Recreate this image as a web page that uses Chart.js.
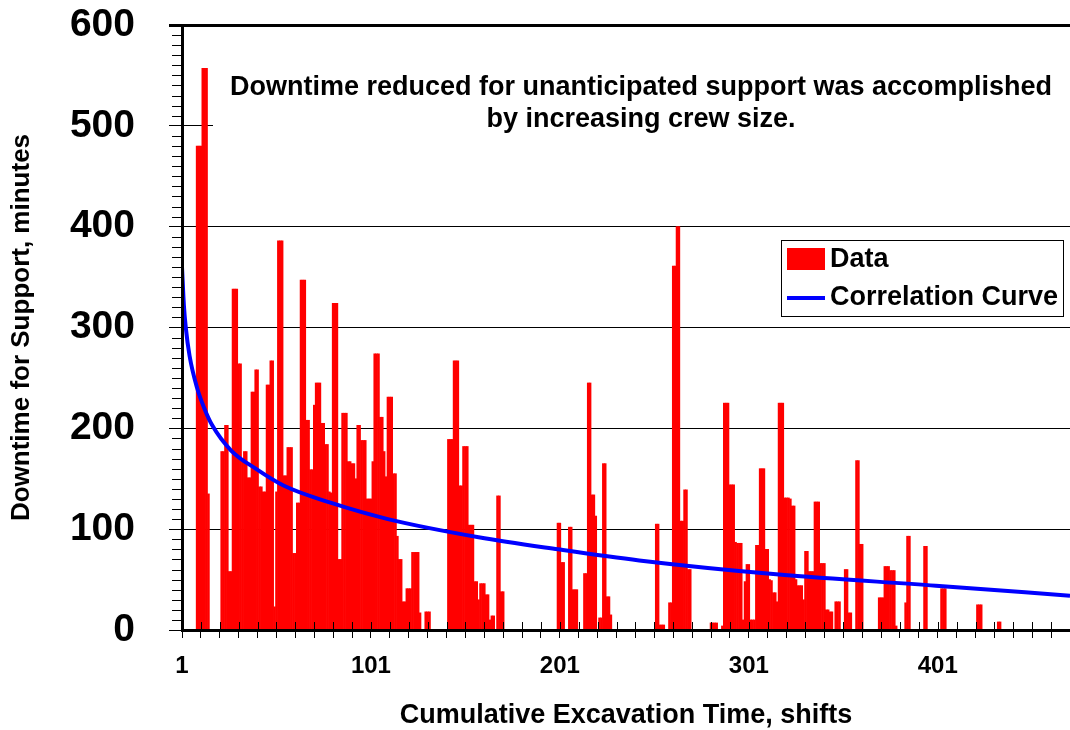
<!DOCTYPE html>
<html>
<head>
<meta charset="utf-8">
<script src="https://cdn.jsdelivr.net/npm/chart.js@4.4.0/dist/chart.umd.min.js"></script>
<style>
  html, body { margin: 0; padding: 0; background: #fff; }
</style>
</head>
<body>
<canvas id="chart" width="1070" height="730"></canvas>
<script>
// Downtime for support per shift (minutes), shifts 1..470
const downtime = [
  0,0,0,0,0,0,0,0,480,480,
  480,557,557,557,135,0,0,0,0,0,
  0,177,177,203,203,58,58,338,338,338,
  264,264,170,177,177,151,151,236,236,258,
  258,142,142,137,137,243,243,267,267,23,
  137,386,386,386,153,153,181,181,181,76,
  76,126,126,347,347,347,208,208,159,159,
  223,245,245,245,205,205,184,184,137,136,
  324,324,324,70,70,215,215,215,167,167,
  165,165,150,203,203,188,188,188,130,130,
  130,167,274,274,274,211,211,177,152,231,
  231,231,155,155,93,70,70,28,28,41,
  41,41,77,77,77,77,17,0,0,18,
  18,18,0,0,0,0,0,0,0,0,
  0,189,189,189,267,267,267,143,143,182,
  182,182,104,104,104,48,48,30,46,46,
  46,35,35,10,14,14,0,133,133,38,
  38,0,0,0,0,0,0,0,0,0,
  0,0,0,0,0,0,0,0,0,0,
  0,0,0,0,0,0,0,0,0,106,
  106,67,67,0,0,102,102,40,40,40,
  0,0,0,56,56,245,245,134,134,113,
  0,12,12,165,165,33,33,15,0,0,
  0,0,0,0,0,0,0,0,0,0,
  0,0,0,0,0,0,0,0,0,0,
  0,105,105,5,5,5,0,0,27,27,
  361,361,400,400,108,108,139,139,60,60,
  0,0,0,0,0,0,0,0,0,0,
  7,7,7,7,0,0,4,225,225,225,
  144,144,144,87,86,86,86,10,48,65,
  65,10,10,10,84,84,160,160,160,80,
  80,50,49,37,37,28,225,225,225,131,
  131,131,130,123,123,50,44,44,44,30,
  78,78,58,58,58,127,127,127,66,66,
  66,20,20,18,18,0,28,28,28,0,
  0,60,60,17,17,0,0,168,168,85,
  85,0,0,0,0,0,0,0,0,32,
  32,32,63,63,63,59,59,59,4,0,
  0,0,0,27,93,93,0,0,0,0,
  0,0,0,83,83,0,0,0,0,0,
  0,0,41,41,41,0,0,0,0,0,
  0,0,0,0,0,0,0,0,0,0,
  0,25,25,25,0,0,0,0,0,0,
  0,0,8,8,0,0,0,0,0,0,
  0,0,0,0,0,0,0,0,0,0,
  0,0,0,0,0,0,0,0,0,0,
  0,0,0,0,0,0,0,0,0,0
];
const shifts = downtime.map((v, i) => i + 1);

// points
const curveX = [1, 2, 3, 5, 9, 13, 17, 27, 40, 55, 80, 110, 158, 200, 243, 317, 400, 471];
const curveY = [360, 322, 300, 272, 240, 219, 203, 178, 160, 143, 126, 110, 92, 80, 69, 55, 44, 34];

const xTickLabels = [1, 101, 201, 301, 401];
const xMinorTicks = [];
for (let v = 1; v <= 461; v += 10) xMinorTicks.push(v);
const yTicks = [0, 100, 200, 300, 400, 500, 600];

const noteLines = ['Downtime reduced for unanticipated support was accomplished', 'by increasing crew size.'];

const FONT = "'Liberation Sans', Arial, sans-serif";

const extras = {
  id: 'extras',
  afterDatasetsDraw(chart) {
    const { ctx, chartArea: a } = chart;
    ctx.save();
    // white text box over the 500 gridline
    ctx.fillStyle = '#fff';
    ctx.fillRect(a.left + 31, a.top + 40, a.right - a.left - 31, 76);
    ctx.fillStyle = '#000';
    ctx.font = 'bold 27px ' + FONT;
    ctx.textAlign = 'center';
    ctx.textBaseline = 'middle';
    noteLines.forEach((t, i) => ctx.fillText(t, 641, a.top + 63 + i * 32));
    ctx.restore();
  },
  afterDraw(chart) {
    const { ctx, chartArea: a, scales: { x, y } } = chart;
    ctx.save();
    ctx.strokeStyle = '#000';
    ctx.lineWidth = 1;
    // minor y ticks
    for (let v = 10; v < 600; v += 10) {
      if (v % 100 === 0) continue;
      const py = Math.round(y.getPixelForValue(v)) + 0.5;
      ctx.beginPath();
      ctx.moveTo(a.left - 10, py);
      ctx.lineTo(a.left, py);
      ctx.stroke();
    }
    // x ticks cross the axis: inner half
    xMinorTicks.forEach(v => {
      const px = Math.round(x.getPixelForValue(v)) + 0.5;
      ctx.beginPath();
      ctx.moveTo(px, a.bottom - 8);
      ctx.lineTo(px, a.bottom);
      ctx.stroke();
    });

    // legend
    const ds = chart.data.datasets;
    const lx = a.right - 289, ly = a.top + 215, lw = 282, lh = 76;
    ctx.fillStyle = '#fff';
    ctx.fillRect(lx, ly, lw, lh);
    ctx.strokeRect(lx + 0.5, ly + 0.5, lw, lh);
    ctx.fillStyle = ds[0].backgroundColor;
    ctx.fillRect(lx + 6, ly + 8, 38, 22);
    ctx.strokeStyle = ds[1].borderColor;
    ctx.lineWidth = 4;
    ctx.beginPath();
    ctx.moveTo(lx + 6, ly + 58);
    ctx.lineTo(lx + 44, ly + 58);
    ctx.stroke();
    ctx.fillStyle = '#000';
    ctx.font = 'bold 27px ' + FONT;
    ctx.textAlign = 'left';
    ctx.textBaseline = 'middle';
    ctx.fillText(ds[0].label, lx + 49, ly + 20);
    ctx.fillText(ds[1].label, lx + 49, ly + 58);
    ctx.restore();
  }
};

new Chart(document.getElementById('chart'), {
  type: 'bar',
  data: {
    datasets: [
      {
        type: 'bar',
        label: 'Data',
        data: shifts.map((s, i) => ({ x: s, y: downtime[i] })),
        backgroundColor: '#ff0000',
        borderWidth: 0,
        barPercentage: 1,
        categoryPercentage: 1,
        order: 2
      },
      {
        type: 'line',
        label: 'Correlation Curve',
        data: curveX.map((cx, i) => ({ x: cx, y: curveY[i] })),
        borderColor: '#0000ff',
        borderWidth: 4,
        pointRadius: 0,
        fill: false,
        cubicInterpolationMode: 'monotone',
        order: 1
      }
    ]
  },
  options: {
    responsive: false,
    animation: false,
    devicePixelRatio: 1,
    layout: { padding: { top: 25, right: 0, bottom: 0, left: 0 } },
    plugins: { legend: { display: false }, tooltip: { enabled: false } },
    scales: {
      x: {
        type: 'linear',
        min: 1,
        max: 471,
        offset: false,
        afterBuildTicks: s => { s.ticks = xMinorTicks.map(v => ({ value: v })); },
        afterFit: s => { s.height = 100; s.paddingRight = 0; },
        ticks: {
          autoSkip: false,
          maxRotation: 0,
          padding: 14,
          color: '#000',
          font: { family: FONT, size: 24, weight: 'bold' },
          callback: v => xTickLabels.includes(v) ? String(v) : ''
        },
        grid: { offset: false, drawOnChartArea: false, drawTicks: true, tickLength: 8, color: '#000' },
        border: { display: true, color: '#000', width: 3, z: 1 },
        title: {
          display: true,
          text: 'Cumulative Excavation Time, shifts',
          color: '#000',
          font: { family: FONT, size: 27, weight: 'bold', lineHeight: 1.04 },
          padding: { top: 0, bottom: 0 }
        }
      },
      y: {
        min: 0,
        max: 600,
        afterBuildTicks: s => { s.ticks = yTicks.map(v => ({ value: v })); },
        afterFit: s => { s.width = 182; s.paddingTop = 0; s.paddingBottom = 0; },
        ticks: {
          padding: 34,
          color: '#000',
          font: { family: FONT, size: 39, weight: 'bold' }
        },
        grid: {
          color: '#000',
          tickColor: '#000',
          tickLength: 13,
          lineWidth: c => (c.tick && c.tick.value === 600) ? 3 : 1
        },
        border: { display: true, color: '#000', width: 3, z: 1 },
        title: {
          display: true,
          text: 'Downtime for Support, minutes',
          color: '#000',
          font: { family: FONT, size: 26, weight: 'bold' },
          padding: { top: 6, bottom: 0 }
        }
      }
    }
  },
  plugins: [extras]
});
</script>
</body>
</html>
